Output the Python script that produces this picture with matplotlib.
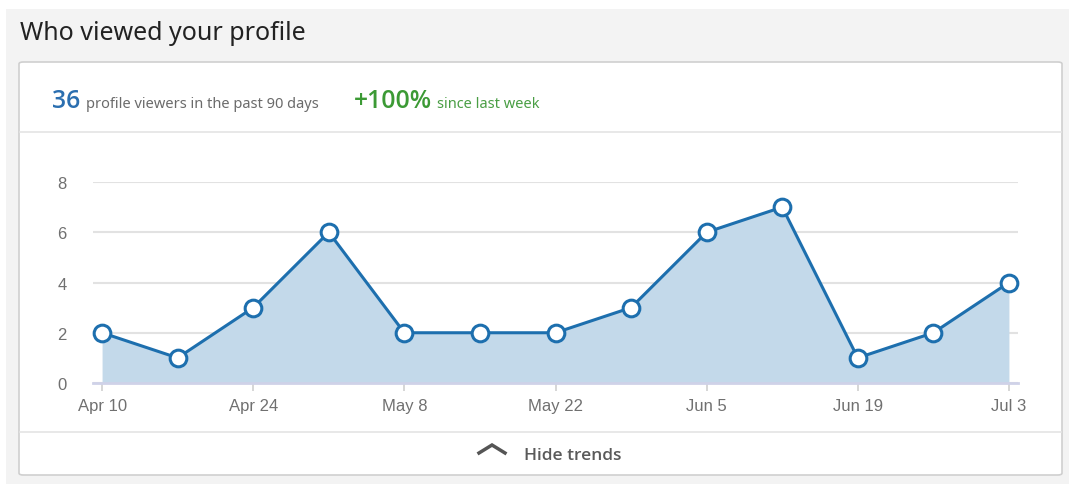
import matplotlib.pyplot as plt
from matplotlib.patches import FancyBboxPatch, Rectangle
from matplotlib.lines import Line2D

W, H = 1069, 485

# data
dates = ["Apr 10", "Apr 17", "Apr 24", "May 1", "May 8", "May 15", "May 22",
         "May 29", "Jun 5", "Jun 12", "Jun 19", "Jun 26", "Jul 3"]
views = [2, 1, 3, 6, 2, 2, 2, 3, 6, 7, 1, 2, 4]
tick_idx = [0, 2, 4, 6, 8, 10, 12]
yticks = [0, 2, 4, 6, 8]

blue = "#1d6fae"
fill = "#c3d9ea"
green = "#3c9a35"


def fx(x):
    return x / W


def fy(y):
    return 1 - y / H


fig = plt.figure(figsize=(W / 100, H / 100), dpi=100)
fig.patch.set_facecolor("white")

# page background + card
fig.add_artist(Rectangle((fx(6), 0), 1 - fx(6), fy(10), transform=fig.transFigure,
                         facecolor="#f3f3f3", edgecolor="none", zorder=0))
fig.add_artist(FancyBboxPatch((fx(19), fy(476)), fx(1062) - fx(19), fy(63) - fy(476),
                              boxstyle="round,pad=0,rounding_size=0.004",
                              transform=fig.transFigure, facecolor="white",
                              edgecolor="#cfcfcf", linewidth=1.2, zorder=1))
for yy in (133, 433):
    fig.add_artist(Line2D([fx(20), fx(1061)], [fy(yy), fy(yy)], transform=fig.transFigure,
                          color="#e4e4e4", linewidth=1.2, zorder=2))

fig.text(fx(20), fy(40), "Who viewed your profile", fontsize=18, color="#222222",
         family="Noto Sans", va="baseline", ha="left")

fig.text(fx(52), fy(108), "36", fontsize=17.8, color="#2b6fb0", family="Open Sans",
         fontweight="semibold", va="baseline", ha="left")
fig.text(fx(86), fy(108), "profile viewers in the past 90 days", fontsize=10.5,
         color="#6b6b6b", family="Noto Sans", va="baseline", ha="left")
fig.text(fx(354), fy(108), "+100%", fontsize=17.8, color=green, family="Open Sans",
         fontweight="semibold", va="baseline", ha="left")
fig.text(fx(437), fy(108), "since last week", fontsize=10.5, color="#4a9e45",
         family="Noto Sans", va="baseline", ha="left")

# footer
fig.add_artist(Line2D([fx(479), fx(492), fx(505)], [fy(454), fy(446), fy(454)],
                      transform=fig.transFigure, color="#555555", linewidth=2.5,
                      solid_joinstyle="miter", zorder=3))
fig.text(fx(524), fy(460), "Hide trends", fontsize=12.5, color="#5a5a5a",
         family="Open Sans", fontweight="semibold", va="baseline", ha="left")

# chart
x = list(range(len(views)))
ax = fig.add_axes([fx(93), fy(384), fx(1018) - fx(93), fy(183) - fy(384)])
ax.set_facecolor("none")
ax.set_zorder(3)
ax.fill_between(x, views, 0, color=fill, linewidth=0, zorder=1)
ax.plot(x, views, color=blue, linewidth=2.2, zorder=3, clip_on=False,
        marker="o", markersize=12, markerfacecolor="white",
        markeredgecolor=blue, markeredgewidth=2.2)
ax.set_xlim(-0.12, 12.12)
ax.set_ylim(0, 8)
ax.set_yticks(yticks)
ax.set_xticks(tick_idx)
ax.set_xticklabels([dates[i] for i in tick_idx])
ax.grid(axis="y", color="#e2e2e2", linewidth=1.5, zorder=0)
ax.set_axisbelow(True)
for s in ["top", "left", "right"]:
    ax.spines[s].set_visible(False)
ax.spines["bottom"].set_color("#cfd2e8")
ax.spines["bottom"].set_linewidth(2)
ax.tick_params(axis="y", length=0, pad=19, labelsize=12, labelcolor="#707070")
ax.tick_params(axis="x", length=6, width=1.2, color="#d0d0d0", pad=5,
               labelsize=12, labelcolor="#707070")
for lab in ax.get_xticklabels() + ax.get_yticklabels():
    lab.set_family("Liberation Sans")

fig.savefig("out.png", dpi=100)
